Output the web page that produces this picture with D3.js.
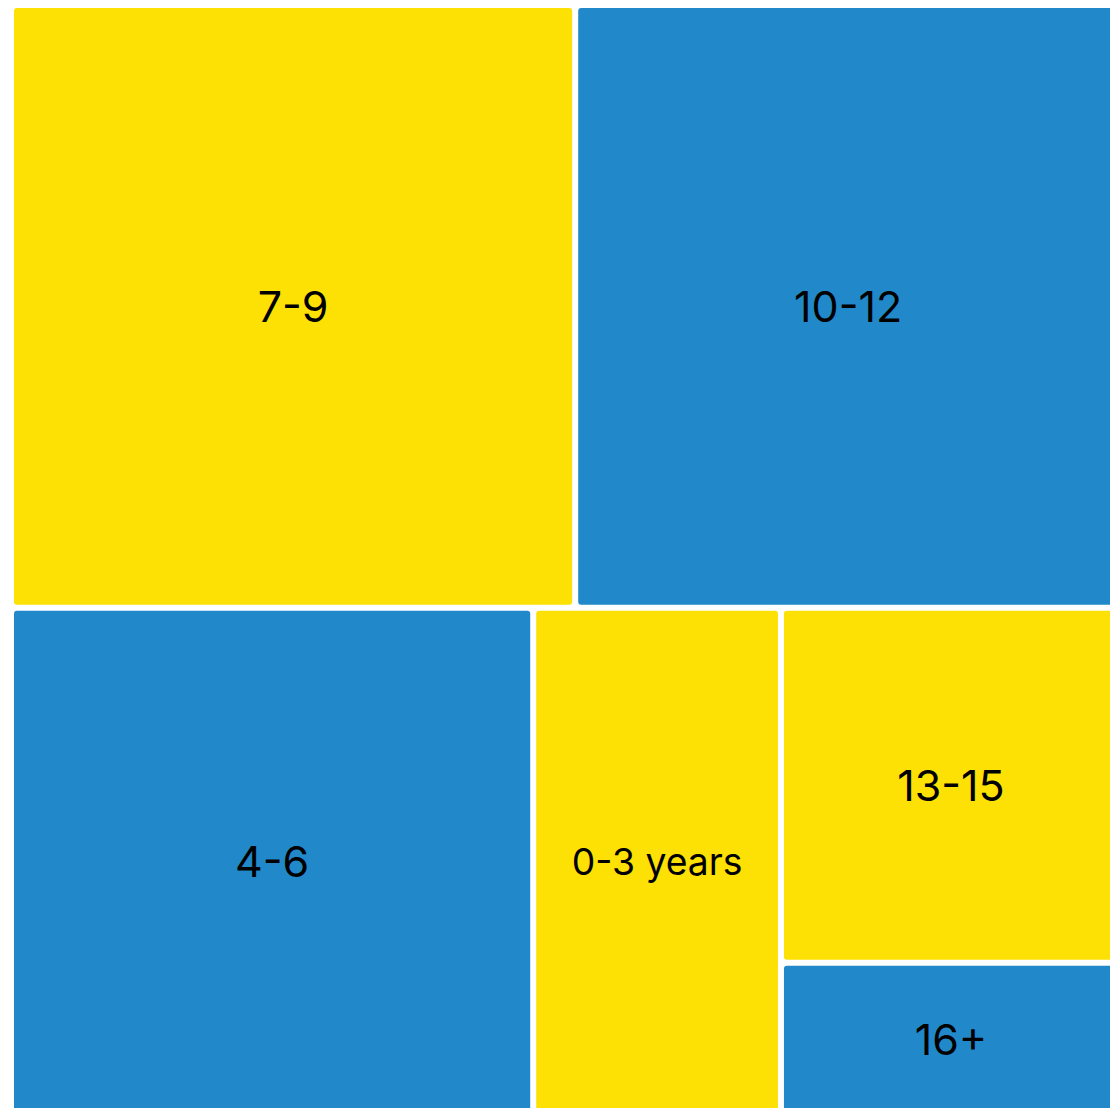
<!DOCTYPE html>
<html>
<head>
<meta charset="utf-8">
<script src="https://cdn.jsdelivr.net/npm/d3@7"></script>
<style>
  html, body { margin: 0; padding: 0; background: #fff; overflow: hidden; }
  svg { display: block; }
  .label { font-family: Inter, "Open Sans", sans-serif; fill: #000; }
</style>
</head>
<body>
<svg width="1110" height="1108"></svg>
<script>
'use strict';

// age groups, in source order (colour alternates along this order)
let categories = ["0-3 years", "4-6", "7-9", "10-12", "13-15", "16+"];
let values = [102, 215, 276, 267, 98, 42];
let colors = ["#fde104", "#2189c9"];

let svg = d3.select("svg");
let size = 1110, pad = 3, maxFont = 43;

let root = d3.hierarchy({
    children: categories.map(function (c, i) {
        return {name: c, value: values[i], index: i};
    })
})
    .sum(function (d) { return d.value; })
    .sort(function (a, b) { return b.value - a.value; });

d3.treemap()
    .tile(d3.treemapBinary)
    .size([size, size])(root);

let g = svg.append("g").attr("transform", "translate(11,5)");

let cell = g.selectAll(".cell")
    .data(root.leaves())
    .enter().append("g")
    .attr("class", "cell")
    .attr("transform", function (d) {
        return "translate(" + d.x0 + "," + d.y0 + ")";
    });

cell.append("rect")
    .attr("x", pad)
    .attr("y", pad)
    .attr("rx", 3)
    .attr("ry", 3)
    .attr("width", function (d) { return d.x1 - d.x0 - 2 * pad; })
    .attr("height", function (d) { return d.y1 - d.y0 - 2 * pad; })
    .attr("fill", function (d) { return colors[d.data.index % 2]; });

cell.append("text")
    .attr("class", "label")
    .attr("x", function (d) { return (d.x1 - d.x0) / 2; })
    .attr("y", function (d) { return (d.y1 - d.y0) / 2; })
    .attr("text-anchor", "middle")
    .attr("dominant-baseline", "central")
    .style("font-size", maxFont + "px")
    .text(function (d) { return d.data.name; })
    .each(function (d) {
        // shrink labels that would crowd a narrow cell
        let w = this.getComputedTextLength();
        let room = (d.x1 - d.x0) * 0.69;
        if (w > room) d3.select(this).style("font-size", (maxFont * room / w) + "px");
    });
</script>
</body>
</html>
